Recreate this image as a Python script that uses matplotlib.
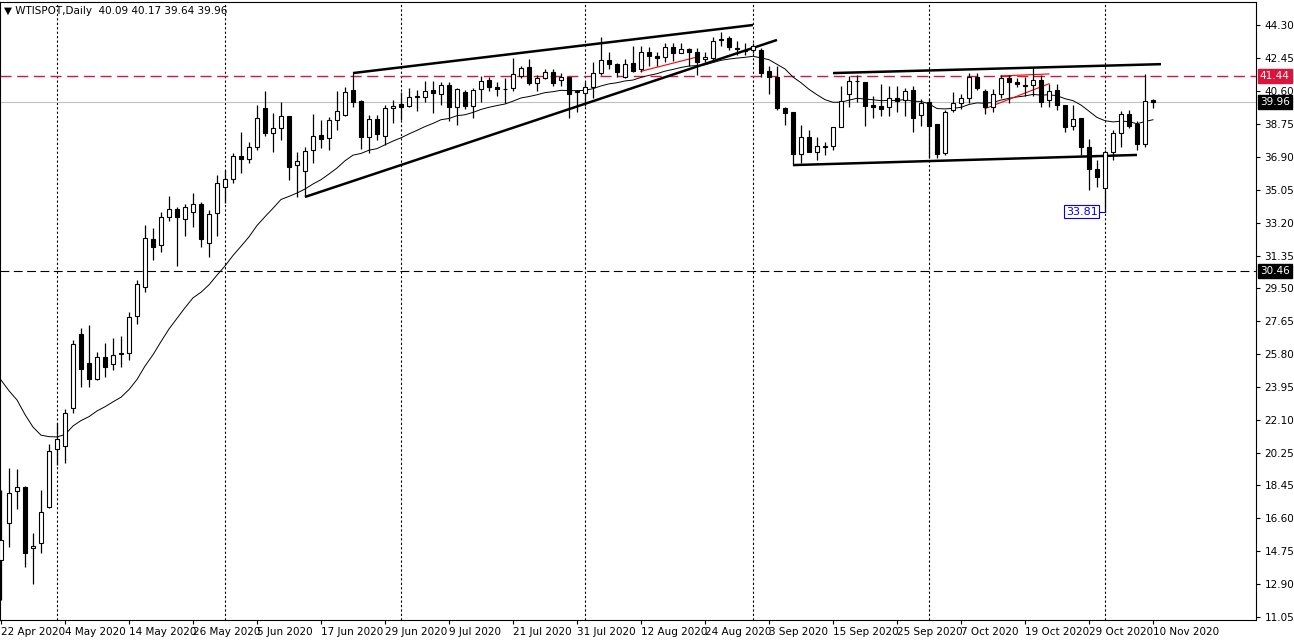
import matplotlib
matplotlib.use("Agg")
import matplotlib.pyplot as plt
import matplotlib.transforms as mtransforms
import numpy as np
import pandas as pd

dates = pd.bdate_range("2020-04-22", "2020-11-10")

opens = [14.24,16.3,18.12,18.34,14.92,15.2,17.2,20.48,20.65,22.78,26.94,25.3,24.4,25.65,25.26,25.8,25.87,27.95,29.58,32.28,
 31.94,33.51,33.96,33.4,33.79,34.24,32.05,33.74,35.2,35.65,36.94,36.77,37.45,39.64,38.23,38.5,39.19,36.43,36.1,37.28,
 38.12,37.95,38.96,39.24,40.65,40.03,38.01,39.0,38.06,39.64,39.86,39.75,40.26,40.26,40.65,40.43,40.93,39.7,40.54,39.75,
 40.7,41.21,40.82,40.72,40.76,41.44,41.94,41.04,41.32,41.66,41.21,41.38,40.55,40.48,40.82,41.6,42.33,42.1,41.38,42.16,
 41.83,42.78,42.56,42.5,43.06,42.73,42.95,42.78,42.4,42.45,43.46,43.57,43.0,42.85,42.9,42.9,41.7,41.38,39.64,39.41,
 37.05,38.01,37.17,37.43,37.5,38.57,40.43,41.13,41.1,39.8,39.75,39.7,40.2,40.1,40.65,39.24,39.97,38.74,37.1,39.52,
 39.92,40.2,41.38,40.6,39.7,40.43,41.32,41.1,40.92,40.93,41.21,40.1,40.65,39.8,38.63,39.08,37.45,36.2,35.14,37.17,
 38.23,39.3,38.74,37.62,40.09]
highs = [18.2,19.4,19.36,18.4,15.76,18.18,20.76,21.94,22.73,26.6,27.28,27.45,25.93,26.44,26.72,26.8,28.18,30.0,33.06,32.9,
 33.8,34.7,34.07,34.24,34.86,34.35,33.9,35.87,36.15,37.1,38.3,37.73,39.8,40.6,39.36,39.97,39.19,37.17,37.45,39.3,
 38.96,39.13,40.6,40.8,41.6,40.1,39.24,39.24,39.8,40.1,40.54,40.76,40.65,41.15,41.15,41.1,41.1,40.76,40.65,40.76,
 41.44,41.38,41.1,41.3,42.45,42.0,42.4,41.5,41.8,41.8,41.6,41.38,40.65,41.1,42.2,43.6,42.8,42.16,42.4,43.1,
 43.1,43.06,42.8,43.3,43.3,43.3,43.0,43.0,42.78,43.62,43.9,43.7,43.4,43.3,43.3,43.0,42.0,42.0,39.7,39.41,
 38.7,38.4,38.0,37.75,38.57,40.9,41.44,41.5,41.1,40.3,40.97,40.9,40.9,40.76,40.9,40.15,40.15,38.74,39.52,40.55,
 40.4,41.6,41.6,40.7,40.7,41.5,41.5,41.3,41.38,41.93,41.5,41.0,41.0,39.8,39.8,39.1,37.9,36.7,37.3,38.4,
 39.45,39.55,38.9,41.55,40.17]
lows = [12.0,15.0,17.1,13.85,12.9,14.64,17.17,19.58,19.7,22.5,23.96,23.96,24.35,24.52,24.92,25.1,25.48,27.5,29.3,31.1,
 31.55,33.3,30.76,32.45,32.95,31.83,31.27,32.45,34.3,35.42,35.98,36.55,37.3,38.06,37.17,37.84,35.6,34.64,34.64,36.55,
 37.39,37.3,38.4,39.2,39.7,37.33,37.1,37.84,37.56,38.8,38.96,39.7,39.47,39.97,39.36,39.8,38.9,38.68,39.58,39.1,
 40.0,40.6,40.3,39.9,40.6,41.3,40.93,40.6,41.26,40.9,40.9,39.08,39.4,39.75,40.2,41.5,41.8,41.38,41.33,41.66,
 41.66,42.0,42.0,42.2,42.3,42.7,42.0,41.5,42.2,42.3,43.1,42.9,42.6,42.6,42.7,41.4,40.4,39.5,38.7,36.43,
 36.55,37.17,36.7,37.0,37.3,38.57,39.7,40.0,38.6,39.1,39.2,39.2,39.4,39.2,38.3,38.6,36.8,36.8,37.0,39.4,
 39.6,39.92,40.65,39.3,39.4,40.2,39.92,40.8,40.3,40.3,39.7,39.7,39.5,38.3,38.4,37.0,35.03,35.2,33.81,36.7,
 37.45,38.5,37.28,37.45,39.64]
closes = [15.37,18.0,18.34,14.64,15.03,16.94,20.37,21.04,22.5,26.38,24.97,24.4,25.65,25.09,25.76,25.85,27.9,29.75,32.33,31.83,
 33.51,33.96,33.51,34.07,34.24,32.28,33.68,35.42,35.65,36.94,36.77,37.45,39.08,38.23,38.5,39.19,36.32,36.66,37.22,38.06,
 37.9,38.96,39.47,40.54,39.97,38.01,39.0,38.18,39.64,39.75,39.7,40.26,40.3,40.6,40.48,40.93,39.7,40.7,39.75,40.65,
 41.15,40.82,40.7,40.68,41.55,41.9,41.04,41.32,41.66,41.04,41.38,40.43,40.6,40.82,41.6,42.33,42.1,41.66,42.1,41.7,
 42.78,42.56,42.45,43.06,42.73,42.95,42.78,42.22,42.5,43.4,43.5,43.06,42.95,42.9,43.1,41.6,41.38,39.64,39.36,37.05,
 38.01,37.17,37.5,37.47,38.57,40.03,41.15,41.17,39.75,39.7,39.58,40.2,40.03,40.6,39.08,39.92,38.63,37.05,39.41,39.92,
 40.2,41.38,40.76,39.7,40.43,41.32,41.1,40.98,40.88,41.21,39.97,40.6,39.8,38.57,39.0,37.45,36.2,35.76,37.17,38.23,
 39.3,38.63,37.62,40.03,39.96]

ma_period = 20
ma_seed = 25.3

yticks = [44.30,42.45,40.60,38.75,36.90,35.05,33.20,31.35,29.50,27.65,25.80,23.95,22.10,20.25,18.45,16.60,14.75,12.90,11.05]
date_label_idx = list(range(0, 145, 8))
level_red = 41.44
level_last = 39.96
level_black = 30.46
low_mark = 33.81

# trendlines: (index, price) endpoints
trend_lines = [((38, 34.64), (97, 43.46)),
               ((44, 41.6), (94, 44.30)),
               ((104, 41.6), (145, 42.1)),
               ((99, 36.43), (142, 37.0))]
red_lines = [((123, 39.6), (131, 41.0)), ((125, 41.44), (131, 41.55)), ((80, 41.7), (87, 42.5))]

n = len(closes)
x = np.arange(n)
o, h, l, c = map(np.array, (opens, highs, lows, closes))

ema = []
prev = ma_seed
alpha = 2 / (ma_period + 1)
for v in c:
    prev = prev + alpha * (v - prev)
    ema.append(prev)

W, H = 1294, 640
fig = plt.figure(figsize=(W/100, H/100), dpi=100)
ax = fig.add_axes([0/W, 1 - 620/H, 1256/W, 618/H])
def py(y):
    return 44.30 - (y - 25) / 17.8
ax.set_ylim(py(620), py(2))
ax.set_xlim(-0.125, (1256 - 1) / 8)

# month separators
months = pd.Series(dates.month)
sep = [i for i in range(1, n) if months[i] != months[i-1]]
for i in sep:
    ax.axvline(i, color="black", lw=0.8, ls=(0, (2, 2)), zorder=1)

ax.axhline(level_red, color="#dc143c", lw=1.0, ls=(0, (8, 4)), zorder=1)
ax.axhline(level_last, color="#c0c0c0", lw=0.8, zorder=1)
ax.axhline(level_black, color="black", lw=0.8, ls=(0, (8, 4)), zorder=1)

ax.plot(x, ema, color="black", lw=0.7, zorder=2)

for (x0, y0), (x1, y1) in trend_lines:
    ax.plot([x0, x1], [y0, y1], color="black", lw=1.8, zorder=3, solid_capstyle="butt")
for (x0, y0), (x1, y1) in red_lines:
    ax.plot([x0, x1], [y0, y1], color="red", lw=0.8, zorder=3)

bw = 0.62
for i in range(n):
    ax.plot([i, i], [l[i], h[i]], color="black", lw=0.9, zorder=4, solid_capstyle="butt")
    lo, hi = min(o[i], c[i]), max(o[i], c[i])
    if hi - lo < 0.05:
        hi = lo + 0.05
    fc = "white" if c[i] >= o[i] else "black"
    ax.add_patch(plt.Rectangle((i - bw/2, lo), bw, hi - lo, facecolor=fc,
                               edgecolor="black", lw=0.8, zorder=5))

# low label
ax.plot([137.2, 138], [low_mark, low_mark], color="blue", lw=0.8, zorder=6)
ax.text(135.1, low_mark, f"{low_mark:.2f}", color="blue", fontsize=8, ha="center", va="center",
        bbox=dict(boxstyle="square,pad=0.15", fc="white", ec="blue", lw=0.8), zorder=7)

ax.yaxis.tick_right()
ax.set_yticks(yticks)
ax.set_yticklabels([f"{v:.2f}" for v in yticks], fontsize=7.5)
ax.tick_params(axis="y", length=3, pad=3)
ax.set_xticks(date_label_idx)
labels = [f"{d.day} {d.strftime('%b %Y')}" for d in dates[date_label_idx]]
ax.set_xticklabels(labels, fontsize=7.5, ha="left")
ax.tick_params(axis="x", length=3, pad=2)
for s in ax.spines.values():
    s.set_linewidth(0.8)

tr = mtransforms.blended_transform_factory(ax.transAxes, ax.transData)
for val, bg in ((level_red, "#dc143c"), (level_last, "black"), (level_black, "black")):
    ax.text(1.003, val, f"{val:.2f}", transform=tr, color="white", fontsize=7.5, ha="left", va="center",
            bbox=dict(boxstyle="square,pad=0.2", fc=bg, ec=bg), zorder=10, clip_on=False)

ax.text(0.003, 0.993, "▼ WTISPOT,Daily  40.09 40.17 39.64 39.96", transform=ax.transAxes,
        fontsize=7.5, ha="left", va="top")

fig.savefig("out.png", dpi=100)
